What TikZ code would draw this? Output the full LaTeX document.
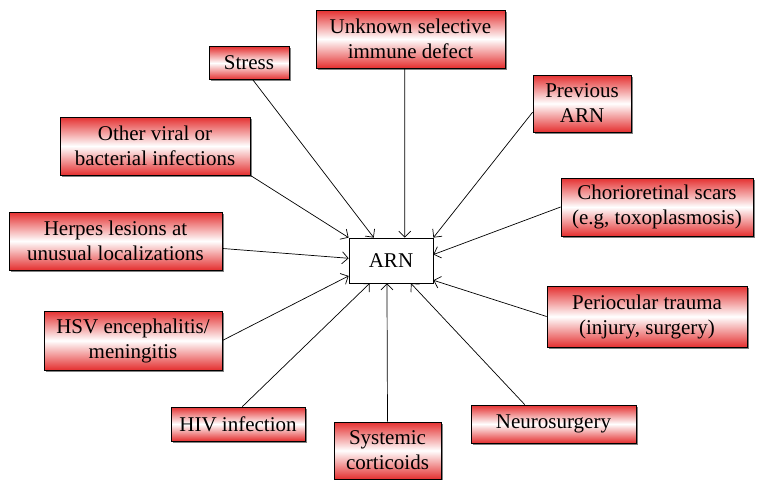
\documentclass[tikz,border=0pt]{standalone}
\usepackage{fontspec}
\setmainfont{Liberation Serif}
\usepackage{tikz}
\usetikzlibrary{arrows.meta,shadows}
\definecolor{causered}{RGB}{228,48,48}

\tikzset{
  cause/.style={draw, line width=0.8pt, align=center, inner sep=1pt,
    top color=causered, bottom color=causered, middle color=white,
    drop shadow={shadow xshift=1.5pt, shadow yshift=-1.5pt, fill=black!70, opacity=0.7},
    font=\fontsize{21}{25}\selectfont},
  centre/.style={draw, line width=0.8pt, fill=white, minimum width=84pt, minimum height=45pt,
    font=\fontsize{21}{25}\selectfont},
  cause arrow/.style={line width=0.7pt, -{Straight Barb[length=6pt,width=12pt]}}
}

\begin{document}
\begin{tikzpicture}[x=1pt,y=-1pt]
\useasboundingbox (0,0) rectangle (757,479);

% Central disease
\node[centre] (arn) at (391,260.5) {ARN};

% Risk factors
\node[cause, minimum width=80pt,  minimum height=33pt] (stress)     at (249,63)    {Stress};
\node[cause, minimum width=189pt, minimum height=58pt] (unknown)    at (410.5,39)  {Unknown selective\\immune defect};
\node[cause, minimum width=98pt,  minimum height=57pt] (previous)   at (582,103.5) {Previous\\ARN};
\node[cause, minimum width=190pt, minimum height=58pt] (otherinf)   at (155,146)   {Other viral or\\bacterial infections};
\node[cause, minimum width=192pt, minimum height=58pt] (chorio)     at (657,207)   {Chorioretinal scars\\(e.g, toxoplasmosis)};
\node[cause, minimum width=213pt, minimum height=58pt] (herpes)     at (115.5,241) {Herpes lesions at\\unusual localizations};
\node[cause, minimum width=200pt, minimum height=61pt] (periocular) at (647,316.5) {Periocular trauma\\(injury, surgery)};
\node[cause, minimum width=178pt, minimum height=59pt] (hsv)        at (133,340.5) {HSV encephalitis/\\meningitis};
\node[cause, minimum width=134pt, minimum height=34pt] (hiv)        at (238,424)   {HIV infection};
\node[cause, minimum width=107pt, minimum height=57pt] (steroid)    at (387.5,450.5) {Systemic\\corticoids};
\node[cause, minimum width=165pt, minimum height=38pt] (neuro)      at (553.5,424) {Neurosurgery};

% Arrows into ARN
\foreach \src/\dst in {stress.-77/arn.127, unknown.-101/arn.59, previous.190/arn.north east,
    otherinf.south east/arn.north west, chorio.west/arn.8, herpes.-4/arn.177,
    periocular.west/arn.-25, hsv.east/arn.200, hiv.76/arn.227,
    steroid.north/arn.260, neuro.146/arn.311} {
  \draw[cause arrow] (\src) -- (\dst);
}
\end{tikzpicture}
\end{document}
